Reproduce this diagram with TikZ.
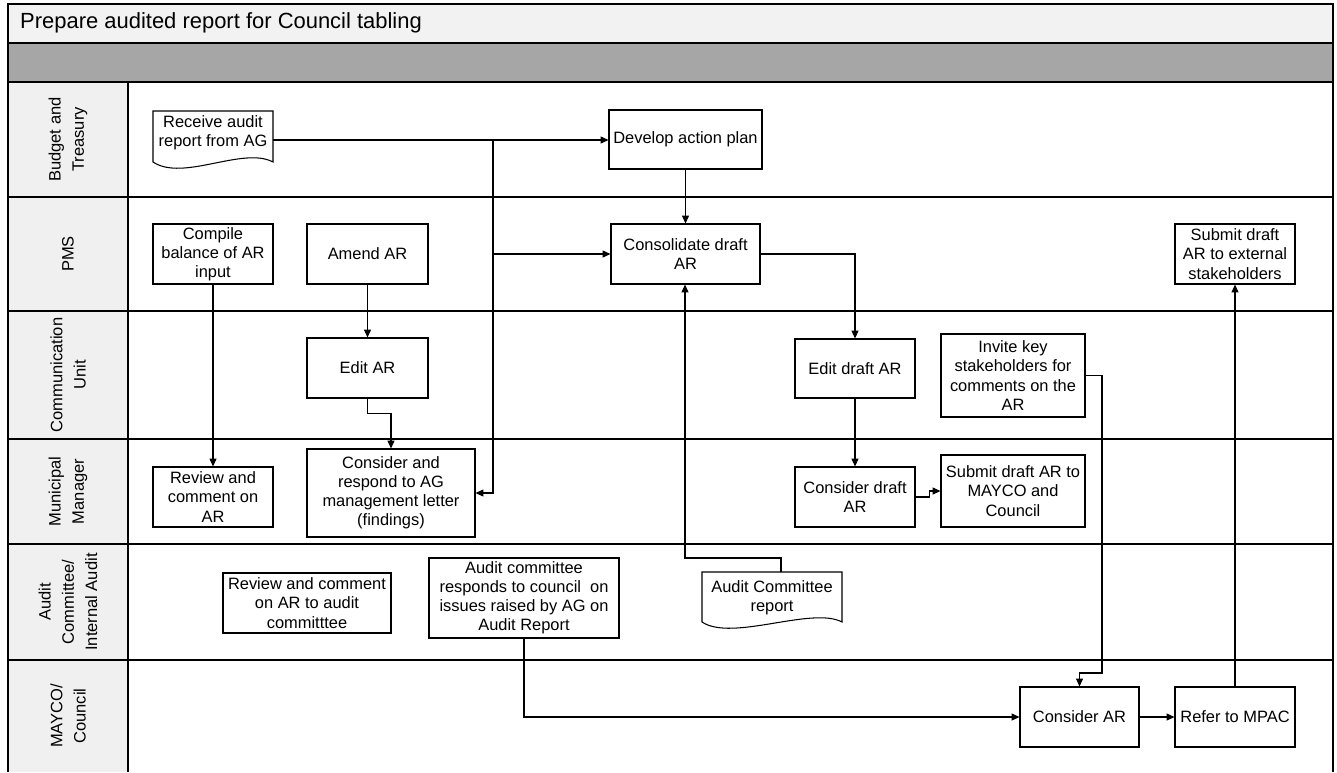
\documentclass[tikz,border=0pt]{standalone}
\usepackage{fontspec}
\setmainfont{Liberation Sans}
\usetikzlibrary{arrows.meta}
\newcommand\bxfont{\fontsize{9.35}{10.9}\selectfont}
\newcommand\lanefont{\fontsize{9.4}{13.2}\selectfont}
\newcommand\titlefont{\fontsize{12.5}{14}\selectfont}
\definecolor{titlebg}{HTML}{F2F2F2}
\definecolor{lanebg}{HTML}{F0F0F0}
\definecolor{bandbg}{HTML}{A6A6A6}
\tikzset{
  frame/.style={line width=0.8pt, draw=black},
  lane/.style={line width=0.6pt, draw=black},
  proc/.style={draw, line width=0.6pt, fill=white, align=center, inner sep=1pt, font=\bxfont},
  docnode/.style={inner sep=0pt, font=\bxfont},
  wh/.style 2 args={minimum width=#1*0.02cm, minimum height=#2*0.02cm},
  arr/.style={line width=0.6pt, -{Triangle[length=4.5pt,width=4pt]}},
  lanelabel/.style={rotate=90, align=center, font=\lanefont},
}
\begin{document}
\begin{tikzpicture}[x=0.02cm, y=-0.02cm]
\useasboundingbox (0,0) rectangle (1337,772);

% --- swimlane frame ---
\fill[titlebg] (8,4) rectangle (1333,43);
\fill[bandbg] (8,43) rectangle (1333,82);
\fill[lanebg] (8,82) rectangle (128,772);
\draw[frame] (8,772) -- (8,4) -- (1333,4) -- (1333,772);
\draw[frame] (8,43) -- (1333,43);
\draw[frame] (8,82) -- (1333,82);
\draw[lane] (128,82) -- (128,772);
\foreach \yy in {197,311,439,544,660}
  \draw[lane] (8,\yy) -- (1333,\yy);

\node[anchor=west, font=\titlefont] (title) at (14,23) {Prepare audited report for Council tabling};

% --- lane labels ---
\node[lanelabel] (lbt)  at (68,139.5) {Budget and\\Treasury};
\node[lanelabel] (lpms) at (68,254) {PMS};
\node[lanelabel] (lcu)  at (68,375) {Communication\\Unit};
\node[lanelabel] (lmm)  at (68,491.5) {Municipal\\Manager};
\node[lanelabel] (lac)  at (68,602) {Audit\\Committee/\\Internal Audit};
\node[lanelabel] (lmc)  at (68,716) {MAYCO/\\Council};

% --- document shapes ---
\fill[white] (153,111) -- (273,111) -- (273,162) .. controls (243,146) and (183,182) .. (153,162) -- cycle;
\draw[line width=0.6pt] (153,111) -- (273,111) -- (273,162) .. controls (243,146) and (183,182) .. (153,162) -- cycle;
\node[docnode, wh={120}{58}, label={[yshift=0.14cm, align=center, font=\bxfont]center:Receive audit\\report from AG}] (recv) at (213,140) {};

\fill[white] (702,572) -- (842,572) -- (842,622) .. controls (812,606) and (732,642) .. (702,622) -- cycle;
\draw[line width=0.6pt] (702,572) -- (842,572) -- (842,622) .. controls (812,606) and (732,642) .. (702,622) -- cycle;
\node[docnode, wh={140}{56}, label={[yshift=0.04cm, align=center, font=\bxfont]center:Audit Committee\\report}] (acr) at (772,600) {};

% --- process boxes ---
\node[proc, wh={153}{59}] (dev) at (685.5,139.5) {Develop action plan};
\node[proc, wh={120}{60}] (comp) at (213,254) {Compile\\balance of AR\\input};
\node[proc, wh={121}{60}] (amend) at (367.5,254) {Amend AR};
\node[proc, wh={149}{60}] (cons) at (685.5,254) {Consolidate draft\\AR};
\node[proc, wh={120}{60}] (extsub) at (1235,254) {Submit draft\\AR to external\\stakeholders};
\node[proc, wh={121}{60}] (editar) at (367.5,368) {Edit AR};
\node[proc, wh={120}{59}] (editdraft) at (855,368.5) {Edit draft AR};
\node[proc, wh={144}{83}] (invite) at (1013,375.5) {Invite key\\stakeholders for\\comments on the\\AR};
\node[proc, wh={120}{60}] (review) at (213,497) {Review and\\comment on\\AR};
\node[proc, wh={168}{88}] (respond) at (391,493) {Consider and\\respond to AG\\management letter\\(findings)};
\node[proc, wh={120}{60}] (consdraft) at (855,497) {Consider draft\\AR};
\node[proc, wh={144}{72}] (submitmc) at (1013,491) {Submit draft AR to\\MAYCO and\\Council};
\node[proc, wh={168}{60}] (reviewac) at (307,603) {Review and comment\\on AR to audit\\committtee};
\node[proc, wh={190}{80}] (acresp) at (524,598) {Audit committee\\responds to council~~on\\issues raised by AG on\\Audit Report};
\node[proc, wh={119}{60}] (consar) at (1079.5,717) {Consider AR};
\node[proc, wh={120}{60}] (mpac) at (1235,717) {Refer to MPAC};

% --- bend points ---
\coordinate (jn) at (493,140);
\coordinate (bendf) at (1102,673);
\coordinate (bendj) at (685,558);

% --- connectors ---
\draw[arr] (recv.east) -- (recv.east -| dev.west);
\draw[arr] (recv.east) -- (jn) |- (respond.east);
\draw[arr] (jn) |- (cons.west);
\draw[arr] (dev.south) -- (cons.north);
\draw[arr] (cons.east) -| (editdraft.north);
\draw[arr] (editdraft.south) -- (consdraft.north);
\draw[arr] (consdraft.east) -- ++(14,0) |- (submitmc.west);
\draw[arr] (invite.east) -| (bendf) -| (consar.north);
\draw[arr] (consar.east) -- (mpac.west);
\draw[arr] (acresp.south) |- (consar.west);
\draw[arr] (mpac.north) -- (extsub.south);
\draw[arr] ([xshift=0.18cm]acr.north) |- (bendj) -- (bendj |- cons.south);
\draw[arr] (comp.south) -- (review.north);
\draw[arr] (amend.south) -- (editar.north);
\draw[arr] (editar.south) -- ++(0,15) -| (respond.north);
\end{tikzpicture}
\end{document}
